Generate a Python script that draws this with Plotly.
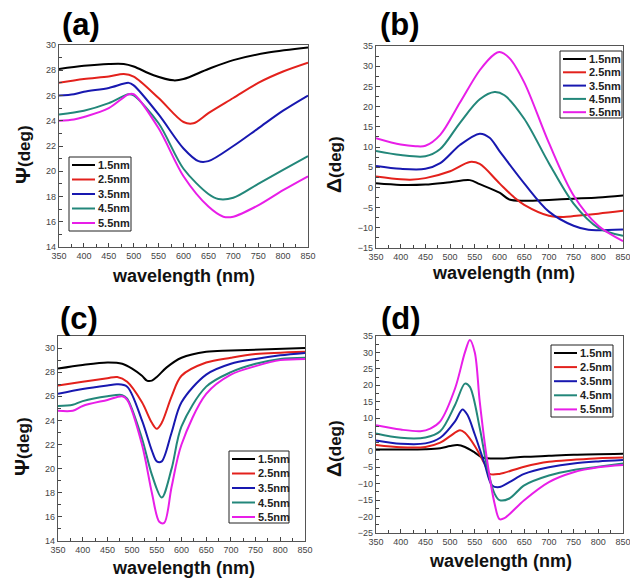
import plotly.graph_objects as go

labels = ["1.5nm", "2.5nm", "3.5nm", "4.5nm", "5.5nm"]
colors = ["#000000", "#e3211c", "#1818b0", "#23877a", "#e81ee8"]

# Panel (a): Psi
a_x = [
    [350, 400, 450, 480, 500, 540, 580, 600, 650, 700, 770, 850],
    [350, 400, 450, 480, 500, 550, 600, 620, 650, 700, 750, 800, 850],
    [350, 380, 400, 450, 490, 500, 550, 600, 630, 650, 700, 750, 800, 850],
    [350, 400, 450, 490, 500, 550, 600, 650, 670, 700, 750, 800, 850],
    [350, 380, 400, 450, 490, 500, 550, 600, 650, 680, 700, 750, 800, 850],
]
a_y = [
    [28.1, 28.35, 28.5, 28.5, 28.3, 27.6, 27.2, 27.3, 28.1, 28.8, 29.4, 29.8],
    [27.0, 27.3, 27.5, 27.7, 27.5, 25.8, 23.9, 23.8, 24.6, 25.8, 27.0, 27.9, 28.6],
    [26.0, 26.1, 26.3, 26.6, 27.0, 26.8, 24.5, 21.8, 20.8, 20.8, 22.0, 23.4, 24.8, 26.0],
    [24.5, 24.8, 25.4, 26.1, 26.0, 23.8, 20.2, 18.2, 17.8, 17.9, 19.0, 20.1, 21.2],
    [24.0, 24.1, 24.3, 25.0, 26.1, 26.1, 23.4, 19.6, 17.2, 16.4, 16.4, 17.3, 18.5, 19.6],
]

# Panel (b): Delta
b_x = [
    [350, 400, 450, 500, 540, 560, 600, 620, 650, 700, 750, 800, 850],
    [350, 400, 420, 450, 500, 540, 560, 600, 630, 650, 700, 730, 750, 800, 850],
    [350, 400, 450, 480, 520, 560, 580, 600, 650, 700, 750, 780, 800, 850],
    [350, 400, 450, 480, 520, 560, 590, 610, 650, 700, 750, 800, 850],
    [350, 400, 430, 450, 480, 520, 560, 590, 600, 620, 650, 700, 750, 800, 850],
]
b_y = [
    [1.0, 0.6, 0.7, 1.3, 1.8, 0.8, -1.3, -3.0, -3.3, -3.1, -2.8, -2.5, -2.0],
    [2.7, 2.0, 1.9, 2.3, 4.0, 6.3, 5.8, 1.0, -2.5, -4.3, -7.0, -7.3, -7.1, -6.5, -5.8],
    [5.3, 4.6, 4.6, 6.0, 10.5, 13.3, 12.3, 9.0, 1.0, -6.0, -9.5, -10.5, -10.6, -10.4],
    [9.0, 8.0, 7.7, 9.5, 16.0, 21.8, 23.6, 22.8, 17.0, 6.0, -4.0, -10.0, -12.0],
    [12.2, 10.6, 10.2, 10.3, 13.0, 21.0, 29.0, 33.0, 33.5, 32.0, 26.0, 11.0, -2.0, -9.5, -13.3],
]

# Panel (c): Psi
c_x = [
    [350, 400, 450, 480, 500, 520, 530, 540, 550, 570, 600, 650, 700, 850],
    [350, 400, 450, 470, 490, 520, 540, 550, 560, 580, 600, 650, 700, 750, 850],
    [350, 400, 450, 470, 490, 520, 540, 550, 560, 580, 600, 650, 700, 750, 800, 850],
    [350, 380, 400, 450, 480, 490, 520, 540, 560, 580, 600, 650, 700, 750, 800, 850],
    [350, 380, 400, 450, 480, 490, 520, 540, 555, 565, 580, 600, 650, 700, 750, 800, 850],
]
c_y = [
    [28.3, 28.6, 28.8, 28.7, 28.3, 27.7, 27.3, 27.3, 27.6, 28.4, 29.2, 29.7, 29.8, 30.0],
    [26.9, 27.2, 27.5, 27.6, 27.2, 25.5, 23.8, 23.3, 23.8, 26.0, 27.7, 28.8, 29.2, 29.5, 29.7],
    [26.2, 26.6, 26.9, 27.0, 26.8, 24.0, 21.5, 20.6, 20.6, 23.0, 25.5, 27.8, 28.7, 29.1, 29.4, 29.6],
    [25.2, 25.3, 25.6, 26.0, 26.1, 25.8, 22.5, 19.5, 17.6, 20.0, 23.5, 26.8, 28.0, 28.7, 29.1, 29.2],
    [24.8, 24.8, 25.2, 25.7, 26.0, 25.7, 22.0, 18.0, 15.6, 15.5, 18.5, 22.0, 26.2, 27.8, 28.5, 29.0, 29.1],
]

# Panel (d): Delta
d_x = [
    [350, 400, 450, 480, 500, 515, 530, 550, 565, 600, 650, 700, 750, 850],
    [350, 400, 450, 480, 500, 520, 530, 550, 570, 580, 600, 650, 700, 750, 800, 850],
    [350, 400, 450, 480, 510, 525, 535, 550, 570, 585, 600, 620, 650, 700, 750, 800, 850],
    [350, 400, 450, 480, 510, 530, 540, 560, 575, 590, 600, 620, 650, 700, 750, 800, 850],
    [350, 400, 440, 460, 480, 510, 530, 540, 550, 560, 575, 590, 600, 610, 650, 700, 750, 800, 850],
]
d_y = [
    [0.4, 0.4, 0.5, 0.8, 1.5, 1.8, 1.2, -0.5, -2.0, -2.3, -1.8, -1.5, -1.2, -0.9],
    [1.8, 1.1, 1.2, 2.5, 4.5, 6.3, 5.5, 1.5, -4.0, -7.0, -7.0, -4.8, -3.3, -2.7, -2.2, -2.0],
    [3.2, 2.2, 2.3, 4.0, 9.0, 12.6, 11.0, 5.0, -4.0, -10.5, -11.0, -9.5, -7.0, -5.0, -3.8, -3.2, -2.8],
    [5.3, 4.0, 4.1, 6.0, 14.0, 20.5, 19.5, 7.0, -5.0, -13.0, -15.0, -14.5, -10.5, -7.5, -5.8, -4.8, -3.8],
    [7.8, 6.5, 6.0, 6.8, 9.0, 19.0, 30.0, 33.8, 30.0, 15.0, -3.0, -16.0, -20.8, -20.5, -15.0, -9.5, -6.5, -5.0, -4.3],
]

panels = [
    ("a", a_x, a_y, [14, 30], 2, 1, "Ψ"),
    ("b", b_x, b_y, [-15, 35], 5, 2.5, "Δ"),
    ("c", c_x, c_y, [14, 31], 2, 1, "Ψ"),
    ("d", d_x, d_y, [-25, 35], 5, 2.5, "Δ"),
]

W, H = 630, 578
# plot-area pixel boxes (left, right, top, bottom)
boxes = [(59, 308, 45, 247), (376, 623, 46, 248), (58, 305, 336, 541), (376, 623, 336, 533)]
# legend boxes: left, top, right, bottom, row spacing
legend_boxes = [(69, 157, 131, 231, 14.5), (560, 51, 622, 118, 13.3),
                (229, 451, 289, 523, 14.5), (551, 345, 613, 417, 14.1)]
panel_lbl_pos = [(81, 25), (400, 25), (79, 318), (401, 318)]
xtitle_pos = [(183, 276), (503, 273), (183, 568), (501, 561)]
ytitle_pos = [(22, 155), (333, 165), (21, 447), (333, 449)]

fig = go.Figure()
FONT = "Liberation Sans, Arial"
tickfont = dict(family=FONT, size=9, color="#444444")

def px_x(v):
    return v / W

def px_y(v):
    return 1 - v / H

for i, (name, xs, ys, yr, dt, mdt, sym) in enumerate(panels):
    n = "" if i == 0 else str(i + 1)
    for k in range(5):
        fig.add_trace(go.Scatter(
            x=xs[k], y=ys[k], mode="lines", name=labels[k], showlegend=False,
            line=dict(color=colors[k], width=2, shape="spline", smoothing=0.9),
            xaxis="x" + n, yaxis="y" + n,
        ))
    l, r, t, b = boxes[i]
    fig.layout["xaxis" + n] = dict(
        domain=[l / W, r / W], range=[350, 850], anchor="y" + n,
        tickmode="linear", tick0=350, dtick=50, ticks="inside", ticklen=4,
        minor=dict(ticks="inside", dtick=25, ticklen=3, tickcolor="#444"),
        showline=True, mirror=True, linecolor="#555555", linewidth=1.2,
        showgrid=False, zeroline=False, tickfont=tickfont, tickcolor="#444",
        ticklabeloverflow="allow",
    )
    fig.layout["yaxis" + n] = dict(
        domain=[1 - b / H, 1 - t / H], range=yr, anchor="x" + n,
        tickmode="linear", tick0=yr[0], dtick=dt, ticks="inside", ticklen=4,
        minor=dict(ticks="inside", dtick=mdt, ticklen=3, tickcolor="#444"),
        showline=True, mirror=True, linecolor="#555555", linewidth=1.2,
        showgrid=False, zeroline=False, tickfont=tickfont, tickcolor="#444",
        ticklabeloverflow="allow",
    )

    # legend box (layout decoration)
    ll, lt, lr, lb, sp = legend_boxes[i]
    fig.add_shape(type="rect", xref="paper", yref="paper",
                  x0=px_x(ll), x1=px_x(lr), y0=px_y(lb), y1=px_y(lt),
                  line=dict(color="#222", width=1), fillcolor="white", layer="above")
    for k in range(5):
        ry = lt + 8 + k * sp
        fig.add_shape(type="line", xref="paper", yref="paper",
                      x0=px_x(ll + 3), x1=px_x(ll + 26), y0=px_y(ry), y1=px_y(ry),
                      line=dict(color=colors[k], width=2), layer="above")
        fig.add_annotation(text=f"<b>{labels[k]}</b>", x=px_x(ll + 27), y=px_y(ry),
                           xref="paper", yref="paper", xanchor="left", yanchor="middle",
                           showarrow=False, font=dict(family=FONT, size=11, color="#222"))

    px, py = panel_lbl_pos[i]
    fig.add_annotation(text=f"<b>({name})</b>", x=px_x(px), y=px_y(py), xref="paper", yref="paper",
                       xanchor="center", yanchor="middle",
                       showarrow=False, font=dict(family=FONT, size=31, color="black"))
    tx, ty = xtitle_pos[i]
    fig.add_annotation(text="<b>wavelength (nm)</b>", x=px_x(tx), y=px_y(ty), xref="paper", yref="paper",
                       xanchor="center", yanchor="middle",
                       showarrow=False, font=dict(family=FONT, size=18, color="#111"))
    yx, yy = ytitle_pos[i]
    fig.add_annotation(text=f"<b><span style='font-size:21px'>{sym}</span>(deg)</b>",
                       x=px_x(yx), y=px_y(yy), xref="paper", yref="paper",
                       xanchor="center", yanchor="middle",
                       showarrow=False, textangle=-90,
                       font=dict(family=FONT, size=17, color="#111"))

fig.update_layout(
    width=W, height=H, margin=dict(l=0, r=0, t=0, b=0, autoexpand=False),
    paper_bgcolor="white", plot_bgcolor="white", showlegend=False,
)
fig.write_html("out.html", config={"displayModeBar": False},
               post_script="document.body.style.margin='0';document.body.style.overflow='hidden';")
